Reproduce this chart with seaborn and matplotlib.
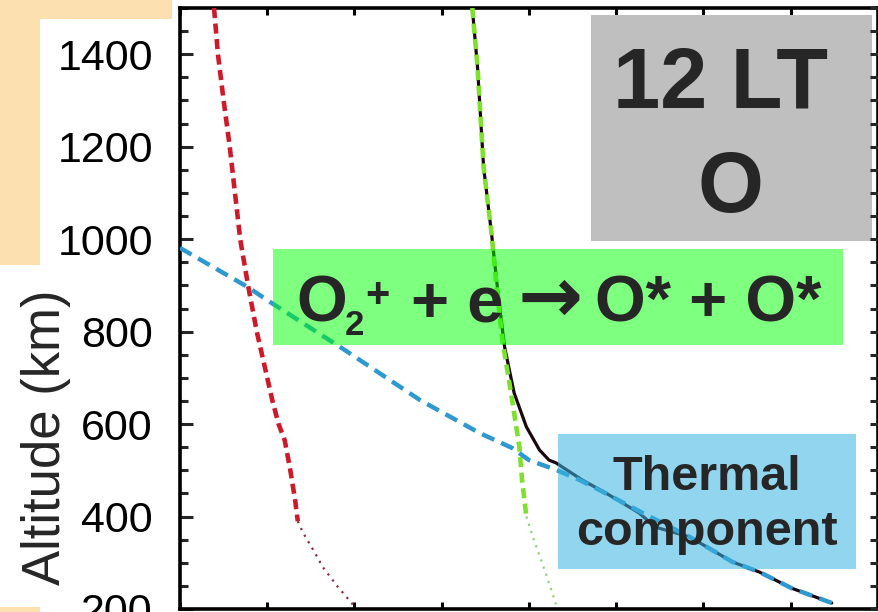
import matplotlib
matplotlib.use('Agg')
import matplotlib.pyplot as plt
import seaborn as sns
from matplotlib.patches import Rectangle
from matplotlib.ticker import MultipleLocator

# ---------------- data (altitude in km, x in arbitrary log-density units) -----
red_dash_alt = [1500, 1400, 1300, 1200, 1100, 1000, 900, 800, 725, 650, 600, 565, 505, 435, 390]
red_dash_x = [0.39, 0.435, 0.50, 0.57, 0.63, 0.69, 0.78, 0.88, 0.97, 1.06, 1.13, 1.20, 1.26, 1.32, 1.35]
red_tail_alt = [390, 365, 330, 290, 250, 210]
red_tail_x = [1.35, 1.41, 1.52, 1.64, 1.80, 1.98]

green_dash_alt = [1500, 1372, 1155, 1013, 875, 775, 660, 550, 480, 400]
green_dash_x = [3.35, 3.41, 3.48, 3.57, 3.64, 3.70, 3.80, 3.89, 3.92, 3.97]
green_tail_alt = [400, 364, 300, 256, 210]
green_tail_x = [3.97, 4.03, 4.15, 4.23, 4.31]

blue_alt = [981, 896, 868, 760, 652, 581, 561, 548, 522, 501, 479, 457, 408, 356, 302, 280, 245, 213]
blue_x = [0.0, 0.78, 1.0, 1.89, 2.75, 3.43, 3.66, 3.81, 4.0, 4.31, 4.58, 4.81, 5.30, 5.84, 6.33, 6.64, 7.01, 7.47]

black_alt = [1500, 1372, 1155, 1013, 875, 767, 667, 594, 544, 522, 516, 479, 451, 408, 377, 356, 302, 280, 245, 213]
black_x = [3.35, 3.41, 3.48, 3.57, 3.65, 3.72, 3.83, 3.97, 4.12, 4.23, 4.31, 4.61, 4.88, 5.26, 5.45, 5.84, 6.33, 6.64, 7.01, 7.47]

y_ticks = [200, 400, 600, 800, 1000, 1200, 1400]
y_label = 'Altitude (km)'
title_line1 = '12 LT'
title_line2 = 'O'
reaction_parts = ['O', '2', '+', '+ e', '→', 'O* + O*']
thermal_line1 = 'Thermal'
thermal_line2 = 'component'

# ---------------- style -------------------------------------------------------
sns.set_style('ticks')
plt.rcParams['font.family'] = ['Liberation Sans', 'DejaVu Sans']

W, H = 879, 612
fig = plt.figure(figsize=(W / 100, H / 100), dpi=100)
fig.patch.set_facecolor('white')


def fx(px):
    return px / W


def fy(py):
    return 1 - py / H


PEACH = '#fce0b0'
for (x0, y0, x1, y1) in [(0, 0, 172, 19), (0, 0, 40, 265), (0, 607, 40, 612)]:
    fig.patches.append(Rectangle((fx(x0), fy(y1)), fx(x1) - fx(x0), fy(y0) - fy(y1),
                                 transform=fig.transFigure, facecolor=PEACH,
                                 edgecolor='none', zorder=0))

ax = fig.add_axes([fx(180), fy(609), fx(878) - fx(180), fy(8) - fy(609)])
ax.set_facecolor('white')


def line(xv, yv, **kw):
    sns.lineplot(x=xv, y=yv, sort=False, estimator=None, ax=ax, legend=False, **kw)


line(black_x, black_alt, color='#1a0810', linewidth=2.3, zorder=2)
line(red_dash_x, red_dash_alt, color='#cc1a2a', linewidth=3.3, linestyle=(0, (2.2, 1.2)), zorder=3)
line(red_tail_x, red_tail_alt, color='#8a3040', linewidth=1.6, linestyle=(0, (1.0, 2.4)), zorder=3)
line(green_dash_x, green_dash_alt, color='#80e030', linewidth=3.3, linestyle=(0, (2.2, 1.2)), zorder=3)
line(green_tail_x, green_tail_alt, color='#98cc80', linewidth=1.6, linestyle=(0, (1.0, 2.4)), zorder=3)
line(blue_x, blue_alt, color='#2e98cf', linewidth=3.2, linestyle=(0, (3.0, 1.7)), zorder=3)

ax.set_xlim(0, 8)
ax.set_ylim(200, 1500)
ax.set_yticks(y_ticks)
ax.yaxis.set_minor_locator(MultipleLocator(50))
ax.xaxis.set_major_locator(MultipleLocator(1))
ax.set_xticklabels([])
ax.tick_params(axis='x', which='both', direction='in', top=True, bottom=True,
               length=5, width=2.2, color='black', labelbottom=False)
ax.tick_params(axis='y', which='major', direction='in', left=True, right=False,
               length=9.5, width=2.2, labelsize=31, pad=19.5, labelcolor='black')
ax.tick_params(axis='y', which='minor', direction='in', left=True, right=False,
               length=5.8, width=2.2)
for s in ax.spines.values():
    s.set_linewidth(2.6)
    s.set_color('black')

# right-side ticks (all short)
axr = ax.twinx()
axr.set_ylim(200, 1500)
axr.yaxis.set_major_locator(MultipleLocator(50))
axr.tick_params(axis='y', which='major', direction='in', right=True, length=5.8,
                width=2.2, labelright=False)
for s in axr.spines.values():
    s.set_visible(False)

ax.set_ylabel(y_label, fontsize=38)
ax.yaxis.label.set_verticalalignment('center')
ax.yaxis.set_label_coords((46 - 180) / 698, (609 - 437) / 601)

# ---------------- annotation boxes -------------------------------------------
T = fig.transFigure


def box(x0, y0, x1, y1, color, alpha=1.0, z=5):
    ax.add_patch(Rectangle((fx(x0), fy(y1)), fx(x1) - fx(x0), fy(y0) - fy(y1),
                           transform=T, facecolor=color, alpha=alpha,
                           edgecolor='none', zorder=z, clip_on=False))


box(591, 15, 872, 241, '#bfbfbf')
box(273, 249, 843, 345, '#00ff00', alpha=0.5)
box(558, 434, 856, 569, '#39b3e0', alpha=0.55)


def txt(px, py, s, size, ha='center', **kw):
    ax.text(fx(px), fy(py), s, transform=T, ha=ha, va='baseline',
            fontsize=size, fontweight='bold', zorder=7, **kw)


txt(721, 108, title_line1, 61)
txt(730, 212, title_line2, 61)

# reaction: O2+ + e -> O* + O*
txt(296, 321, reaction_parts[0], 47, ha='left')
txt(345, 335, reaction_parts[1], 25, ha='left')
txt(365, 307, reaction_parts[2], 30, ha='left')
txt(411, 321, reaction_parts[3], 47, ha='left')
txt(550, 322, reaction_parts[4], 56, family='DejaVu Sans')
txt(821, 321, reaction_parts[5], 47, ha='right')

txt(707, 490, thermal_line1, 35)
txt(707, 545, thermal_line2, 35)

fig.savefig('out.png', dpi=100, facecolor='white')
